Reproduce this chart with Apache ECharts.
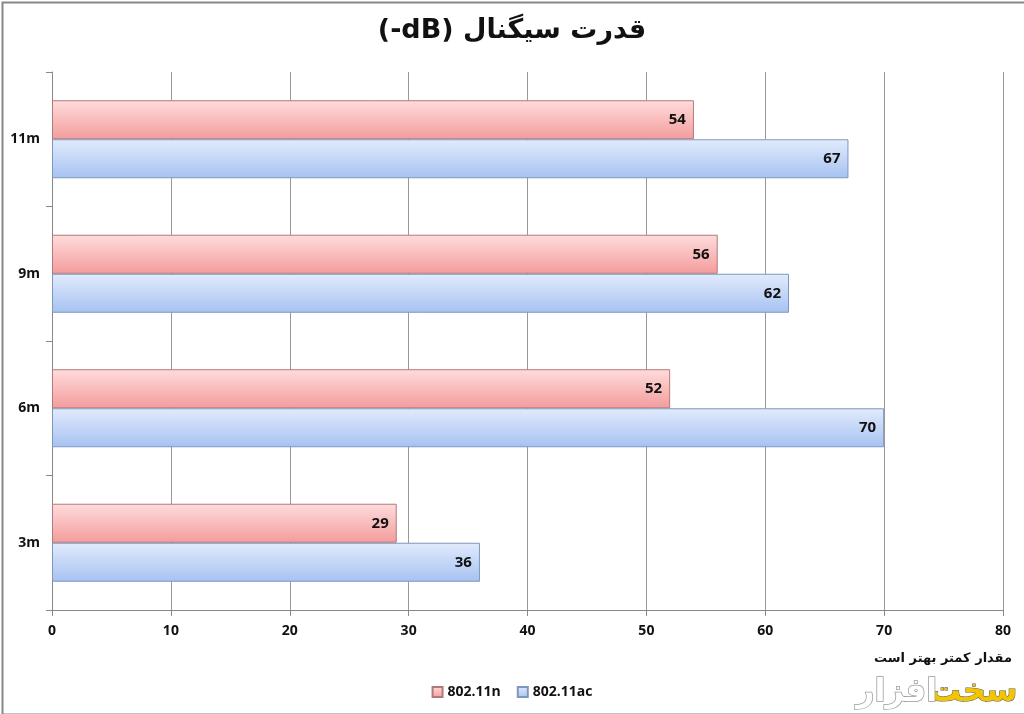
<!DOCTYPE html>
<html><head><meta charset="utf-8">
<script src="https://cdn.jsdelivr.net/npm/echarts@6/dist/echarts.min.js"></script>
<style>html,body{margin:0;padding:0;background:#fff}#c{width:1024px;height:714px}</style>
</head><body><div id="c"></div>
<script>
var categories = ['3m', '6m', '9m', '11m'];
var seriesNames = ['802.11n', '802.11ac'];
var valuesN = [29, 52, 56, 54];
var valuesAC = [36, 70, 62, 67];
var xTicks = [0, 10, 20, 30, 40, 50, 60, 70, 80];
var titleText = '(-dB) قدرت سیگنال';
var noteText = 'مقدار کمتر بهتر است';

var chart = echarts.init(document.getElementById('c'));
var F = "'Open Sans', 'DejaVu Sans', sans-serif";
function grad(a, b) {
  return new echarts.graphic.LinearGradient(0, 0, 0, 1, [{offset: 0, color: a}, {offset: 1, color: b}]);
}
var labelCfg = {show: true, position: 'insideRight', color: '#111', fontWeight: 'bold', fontSize: 15, fontFamily: F, distance: 8};
chart.setOption({
  backgroundColor: '#fff',
  animation: false,
  title: {text: titleText, left: 'center', top: 12, textStyle: {fontFamily: "'DejaVu Sans', sans-serif", fontSize: 27, fontWeight: 'bold', color: '#111'}},
  legend: {data: seriesNames, bottom: 10, left: 'center', itemWidth: 10, itemHeight: 10, itemGap: 16, icon: 'rect',
    textStyle: {fontFamily: F, fontWeight: 'bold', fontSize: 14, color: '#111'}},
  grid: {left: 52, right: 21, top: 72, bottom: 104},
  xAxis: {type: 'value', min: xTicks[0], max: xTicks[xTicks.length - 1], interval: 10,
    axisLine: {show: true, lineStyle: {color: '#888'}},
    axisTick: {show: true, length: 6, lineStyle: {color: '#888'}},
    splitLine: {show: true, lineStyle: {color: '#999'}},
    axisLabel: {margin: 14, fontFamily: F, fontWeight: 'bold', fontSize: 14, color: '#111'}},
  yAxis: {type: 'category', data: categories,
    axisLine: {show: true, lineStyle: {color: '#888'}},
    axisTick: {show: true, length: 6, lineStyle: {color: '#888'}},
    axisLabel: {margin: 12, fontFamily: F, fontWeight: 'bold', fontSize: 14, color: '#111'}},
  series: [
    {name: seriesNames[0], type: 'bar', data: valuesN, barGap: '0%', barCategoryGap: '42%',
      itemStyle: {color: grad('#ffdcdc', '#f39c9c'), borderColor: '#b67878', borderWidth: 1},
      label: labelCfg},
    {name: seriesNames[1], type: 'bar', data: valuesAC, barGap: '0%', barCategoryGap: '42%',
      itemStyle: {color: grad('#e2ebfc', '#a6c2f1'), borderColor: '#7e97bf', borderWidth: 1},
      label: labelCfg}
  ],
  graphic: [
    {type: 'rect', left: 0, top: 0, shape: {width: 1023, height: 712}, style: {fill: 'none', stroke: '#888', lineWidth: 2}, silent: true},
    {type: 'text', right: 12, top: 652, style: {text: noteText, font: "bold 13px 'DejaVu Sans', sans-serif", fill: '#111'}},
    {type: 'text', right: 6, top: 676, style: {text: 'سخت', font: "bold 32px 'DejaVu Sans', sans-serif", fill: '#f3c500', stroke: '#555', lineWidth: 1}},
    {type: 'text', right: 86, top: 676, style: {text: 'افزار', font: "bold 32px 'DejaVu Sans', sans-serif", fill: '#fff', stroke: '#999', lineWidth: 1.5}}
  ]
});
</script></body></html>
